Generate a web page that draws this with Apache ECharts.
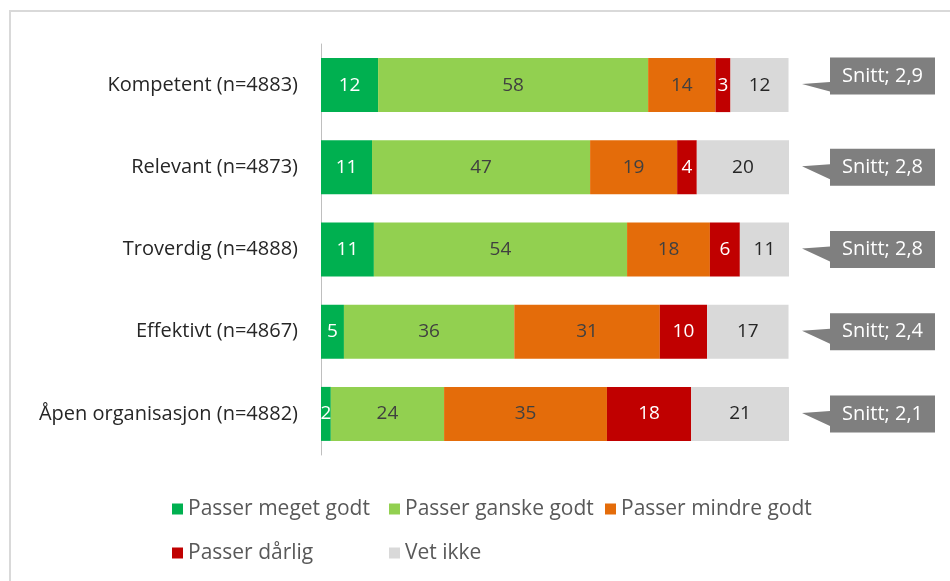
<!DOCTYPE html>
<html>
<head>
<meta charset="utf-8">
<script src="https://cdn.jsdelivr.net/npm/echarts@6/dist/echarts.min.js"></script>
<style>
  html, body { margin: 0; padding: 0; background: #fff; }
  #main { width: 950px; height: 581px; }
</style>
</head>
<body>
<div id="main"></div>
<script>
var categories = ['Kompetent (n=4883)', 'Relevant (n=4873)', 'Troverdig (n=4888)', 'Effektivt (n=4867)', 'Åpen organisasjon (n=4882)'];
var seriesNames = ['Passer meget godt', 'Passer ganske godt', 'Passer mindre godt', 'Passer dårlig', 'Vet ikke'];
// andeler i prosent, etiketter vises avrundet
var meget = [12.2, 10.9, 11.3, 4.9, 2.1];
var ganske = [57.7, 46.6, 54.1, 36.4, 24.2];
var mindre = [14.4, 18.6, 17.7, 31.1, 34.8];
var darlig = [3.2, 4.2, 6.4, 10.1, 18.0];
var vetIkke = [12.4, 19.7, 10.5, 17.4, 20.9];
var snitt = ['2,9', '2,8', '2,8', '2,4', '2,1'];

var colors = ['#00b050', '#92d050', '#e46c0a', '#c00000', '#d9d9d9'];
var labelColors = ['#ffffff', '#404040', '#404040', '#ffffff', '#262626'];
var FONT = '"Open Sans", Lato, sans-serif';

var myChart = echarts.init(document.getElementById('main'));

var values = [meget, ganske, mindre, darlig, vetIkke];
var barSeries = values.map(function (arr, i) {
    return {
        name: seriesNames[i],
        type: 'bar',
        stack: 'total',
        barWidth: 54,
        data: arr,
        itemStyle: {color: colors[i]},
        label: {
            show: true,
            position: 'inside',
            color: labelColors[i],
            fontFamily: FONT,
            fontSize: 19,
            formatter: function (p) { return Math.round(p.value); }
        }
    };
});

// snitt-bobler ved enden av hver stolpe
var snittData = snitt.map(function (s, i) {
    return [100, i, s];
});

barSeries.push({
    type: 'custom',
    name: 'snitt',
    clip: false,
    silent: true,
    data: snittData,
    renderItem: function (params, api) {
        var pt = api.coord([api.value(0), api.value(1)]);
        var tipX = pt[0] + 13;
        var tipY = pt[1] - 1;
        var bx = pt[0] + 41;
        var w = 105, h = 37;
        var cy = pt[1] + (params.dataIndex === 0 ? -9 : 0);
        var top = cy - h / 2, bot = cy + h / 2;
        var baseTop = Math.max(top, tipY - 2);
        var baseBot = Math.min(bot - 3, tipY + 13);
        return {
            type: 'group',
            children: [{
                type: 'polygon',
                shape: {points: [[bx, top], [bx + w, top], [bx + w, bot], [bx, bot], [bx, baseBot], [tipX, tipY], [bx, baseTop]]},
                style: {fill: '#7f7f7f'}
            }, {
                type: 'text',
                style: {
                    text: 'Snitt; ' + api.value(2),
                    x: bx + w / 2,
                    y: cy,
                    align: 'center',
                    verticalAlign: 'middle',
                    fill: '#ffffff',
                    font: '20px ' + FONT
                }
            }]
        };
    }
});

var legendBase = {
    orient: 'vertical',
    top: 497,
    padding: 0,
    itemWidth: 11,
    itemHeight: 11,
    itemGap: 20,
    icon: 'rect',
    textStyle: {color: '#595959', fontSize: 21, fontFamily: FONT, lineHeight: 24}
};

option = {
    animation: false,
    backgroundColor: '#ffffff',
    graphic: [{
        type: 'rect',
        shape: {x: 10, y: 11, width: 960, height: 600},
        style: {fill: 'none', stroke: '#d9d9d9', lineWidth: 2}
    }],
    legend: [
        Object.assign({left: 172, data: [seriesNames[0], seriesNames[3]]}, legendBase),
        Object.assign({left: 389, data: [seriesNames[1], seriesNames[4]]}, legendBase),
        Object.assign({left: 605, data: [seriesNames[2]]}, legendBase)
    ],
    grid: {left: 321, top: 44, width: 468, height: 411},
    xAxis: {
        type: 'value',
        min: 0,
        max: 100,
        show: false
    },
    yAxis: {
        type: 'category',
        inverse: true,
        data: categories,
        axisTick: {show: false},
        axisLine: {show: true, lineStyle: {color: '#bfbfbf', width: 1}},
        axisLabel: {color: '#262626', fontSize: 20, fontFamily: FONT, margin: 23}
    },
    series: barSeries
};
myChart.setOption(option);
</script>
</body>
</html>
